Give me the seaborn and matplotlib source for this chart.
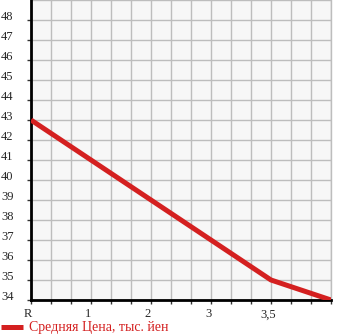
import numpy as np
import pandas as pd
import matplotlib
matplotlib.use("Agg")
import matplotlib.pyplot as plt
import matplotlib.transforms as mtransforms
import seaborn as sns

categories = ["R", "1", "2", "3", "3,5", ""]
prices = [43, 41, 39, 37, 35, 34]
y_ticks = list(range(34, 49))
series_name = "Средняя Цена, тыс. йен"

sns.set_style("white")
plt.rcParams["font.family"] = ["Liberation Serif", "DejaVu Serif"]

df = pd.DataFrame({"pos": np.arange(len(categories)), "price": prices})

fig = plt.figure(figsize=(3.45, 3.35), dpi=100)
ax = fig.add_axes([31/345, 35/335, 300/345, 300/335])
ax.set_facecolor("#f7f7f7")

sns.lineplot(data=df, x="pos", y="price", ax=ax, color="#d42020",
             linewidth=3.6, label=series_name, legend=False, zorder=5,
             solid_capstyle="butt")

ax.set_xlim(0, len(categories) - 1)
ax.set_ylim(34, 49)
ax.set_xticks(np.arange(len(categories) - 1))
ax.set_xticklabels(categories[:-1])
ax.set_xticks(np.arange(0, len(categories) - 1 + 1e-9, 1/3), minor=True)
ax.set_yticks(y_ticks)
ax.set_yticks(y_ticks + [49], minor=True)
ax.set_yticklabels([str(v) for v in y_ticks])
ax.set_xlabel("")
ax.set_ylabel("")

ax.grid(True, which="both", color="#bdbdbd", linewidth=1.0)
ax.set_axisbelow(True)

ax.spines["top"].set_visible(False)
ax.spines["right"].set_color("#bdbdbd")
ax.spines["right"].set_linewidth(1.0)
ax.spines["left"].set_color("black")
ax.spines["left"].set_linewidth(2.0)
ax.spines["bottom"].set_color("black")
ax.spines["bottom"].set_linewidth(2.0)

ax.tick_params(axis="x", which="both", length=3, width=1, color="#333333",
               labelsize=9, pad=3, bottom=True)
ax.tick_params(axis="y", which="major", length=3, width=1, color="#333333",
               labelsize=9, pad=9.5, left=True)
ax.tick_params(axis="y", which="minor", length=0)

offx = mtransforms.ScaledTranslation(-3/100, 0, fig.dpi_scale_trans)
for lbl in ax.get_xticklabels():
    lbl.set_transform(lbl.get_transform() + offx)
offy = mtransforms.ScaledTranslation(0, 4/100, fig.dpi_scale_trans)
for lbl in ax.get_yticklabels():
    lbl.set_transform(lbl.get_transform() + offy)

fig.legend(handles=ax.get_lines()[:1], labels=[series_name],
           loc="center left", bbox_to_anchor=(-0.014, 7/335), frameon=False,
           handlelength=1.6, handletextpad=0.45, fontsize=10,
           labelcolor="#d42020", borderaxespad=0)

fig.savefig("out.png", dpi=100)
